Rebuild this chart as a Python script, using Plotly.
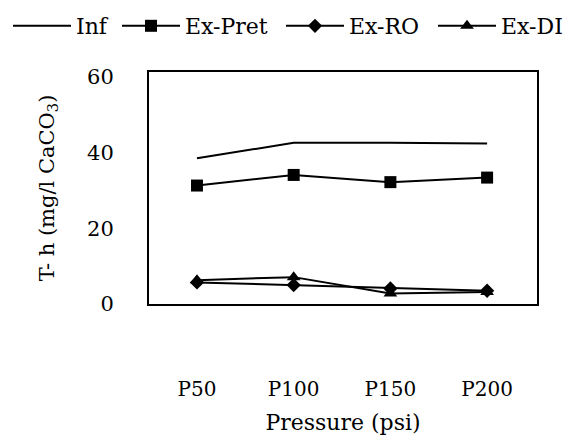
import plotly.graph_objects as go

categories = ["P50", "P100", "P150", "P200"]
inf = [38.5, 42.6, 42.6, 42.4]
ex_pret = [31.3, 34.1, 32.2, 33.4]
ex_ro = [5.7, 5.0, 4.1, 3.5]
ex_di = [6.3, 7.1, 2.8, 3.2]

x_idx = list(range(len(categories)))
FONT = "DejaVu Serif"

W, H = 577, 433  # page body has an 8px margin inside the 585x441 window

series = [
    ("Inf", inf, None, 0, "legend"),
    ("Ex-Pret", ex_pret, "square", 12, "legend2"),
    ("Ex-RO", ex_ro, "diamond", 11, "legend3"),
    ("Ex-DI", ex_di, "triangle-up", 12, "legend4"),
]
legend_x_px = [0, 109, 273, 425]

fig = go.Figure()
for name, vals, sym, size, lg in series:
    fig.add_trace(go.Scatter(
        x=x_idx, y=vals, name=name, legend=lg,
        mode="lines" if sym is None else "lines+markers",
        line=dict(color="black", width=2),
        marker=dict(symbol=sym or "circle", size=size, color="black"),
    ))

legend_common = dict(
    orientation="h", xref="container", yref="container",
    y=1 - 18 / H, xanchor="left", yanchor="middle",
    font=dict(family=FONT, size=22, color="black"),
    itemwidth=58, bgcolor="rgba(0,0,0,0)",
)
layout_legends = {}
for (name, _, _, _, lg), xp in zip(series, legend_x_px):
    layout_legends[lg] = dict(legend_common, x=xp / W)

fig.update_layout(
    width=W, height=H,
    paper_bgcolor="white", plot_bgcolor="white",
    margin=dict(l=141, r=48, t=64, b=137),
    font=dict(family=FONT, size=20, color="black"),
    showlegend=True,
    **layout_legends,
)
fig.update_xaxes(
    tickmode="array", tickvals=x_idx, ticktext=categories,
    range=[-0.496, 3.516], showgrid=False, zeroline=False,
    showline=True, linecolor="black", linewidth=2, mirror=True,
    ticks="", ticklabelstandoff=66, automargin=False,
    tickfont=dict(family=FONT, size=20, color="black"),
    title=dict(text="Pressure (psi)", font=dict(family=FONT, size=22), standoff=15),
)
fig.update_yaxes(
    range=[0, 61.3], tickvals=[0, 20, 40, 60], showgrid=False, zeroline=False,
    showline=True, linecolor="black", linewidth=2, mirror=True,
    ticks="", ticklabelstandoff=29, automargin=False,
    tickfont=dict(family=FONT, size=21, color="black"),
    title=dict(text="T- h (mg/l CaCO<sub>3</sub>)", font=dict(family=FONT, size=21), standoff=27),
)

fig.write_html("out.html")
